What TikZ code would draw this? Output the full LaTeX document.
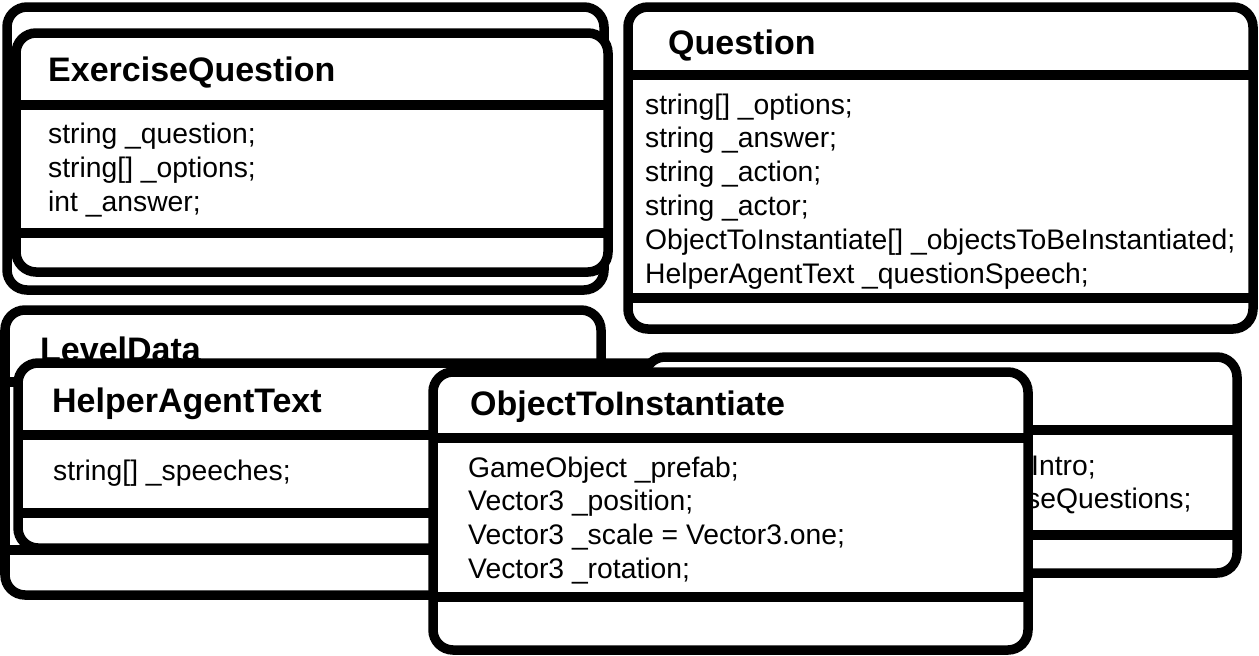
\documentclass[tikz,border=0pt]{standalone}
\usepackage{fontspec}
\setmainfont{Liberation Sans}
\usetikzlibrary{calc,positioning}

\begin{document}
\begin{tikzpicture}[x=1pt, y=-1pt]
\tikzstyle{box}=[draw, line width=9.5pt, rounded corners=20pt, fill=white, anchor=north west, inner sep=0pt, outer sep=0pt]
\tikzstyle{sep}=[line width=9.5pt]
\tikzstyle{title}=[anchor=base west, inner sep=0pt, font=\fontsize{34}{40}\selectfont\bfseries]
\tikzstyle{field}=[anchor=base west, inner sep=0pt, font=\fontsize{28.3}{34}\selectfont]

\useasboundingbox (0,0) rectangle (1259,656);

% ExerciseQuestion (card behind + card)
\node (eqback) [box, minimum width=597pt, minimum height=283pt] at (7,7) {};
\node (eq) [box, minimum width=592pt, minimum height=239pt] at (16,33) {};
\draw [sep] (eq.west |- 0,105) -- (eq.east |- 0,105);
\draw [sep] (eq.west |- 0,233) -- (eq.east |- 0,233);
\node (eqtitle) [title] at (48,81) {ExerciseQuestion};
\foreach \txt [count=\i] in {{string \_question;}, {string[] \_options;}, {int \_answer;}}
  \node (eqf\i) [field] at (48,109+34*\i) {\txt};

% Question
\node (question) [box, minimum width=625pt, minimum height=322pt] at (628,7) {};
\draw [sep] (question.west |- 0,75) -- (question.east |- 0,75);
\draw [sep] (question.west |- 0,298) -- (question.east |- 0,298);
\node (qtitle) [title] at (668,54) {Question};
\foreach \txt [count=\i] in {{string[] \_options;}, {string \_answer;}, {string \_action;}, {string \_actor;}, {ObjectToInstantiate[] \_objectsToBeInstantiated;}, {HelperAgentText \_questionSpeech;}}
  \node (qf\i) [field] at (645,80.2+33.8*\i) {\txt};

% LevelData
\node (level) [box, minimum width=596pt, minimum height=285pt] at (5,310) {};
\draw [sep] (level.west |- 0,382) -- (level.east |- 0,382);
\draw [sep] (level.west |- 0,550) -- (level.east |- 0,550);
\node (ltitle) [title] at (40,361) {LevelData};

% HelperAgentText
\node (helper) [box, minimum width=680pt, minimum height=185pt] at (18,363) {};
\draw [sep] (helper.west |- 0,435) -- (helper.east |- 0,435);
\draw [sep] (helper.west |- 0,513) -- (helper.east |- 0,513);
\node (htitle) [title] at (52,412) {HelperAgentText};
\node (hf1) [field] at (53,480) {string[] \_speeches;};

\node (levelfields) [box, minimum width=592pt, minimum height=216pt] at (645,357) {};
\draw [sep] (levelfields.west |- 0,430) -- (levelfields.east |- 0,430);
\draw [sep] (levelfields.west |- 0,535) -- (levelfields.east |- 0,535);
\node (lf1) [field] at (1031,475) {Intro;};
\node (lf2) [field] at (1026,508) {seQuestions;};

% ObjectToInstantiate
\node (objinst) [box, minimum width=595pt, minimum height=278pt] at (433,372) {};
\draw [sep] (objinst.west |- 0,438) -- (objinst.east |- 0,438);
\draw [sep] (objinst.west |- 0,597) -- (objinst.east |- 0,597);
\node (otitle) [title] at (470,415) {ObjectToInstantiate};
\foreach \txt [count=\i] in {{GameObject \_prefab;}, {Vector3 \_position;}, {Vector3 \_scale = Vector3.one;}, {Vector3 \_rotation;}}
  \node (of\i) [field] at (468,443.5+33.7*\i) {\txt};

\end{tikzpicture}
\end{document}
